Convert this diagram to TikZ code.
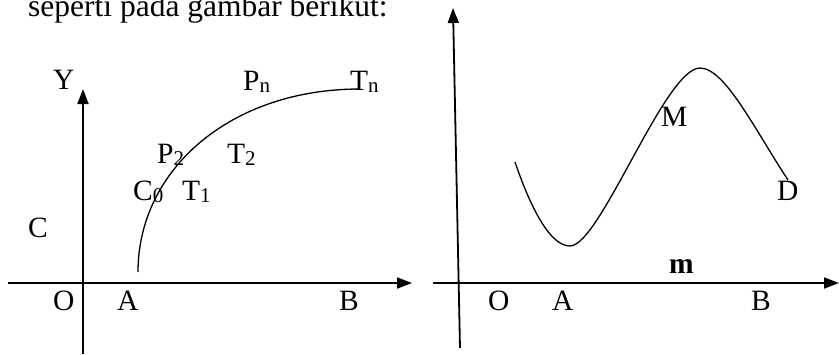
\documentclass[tikz,border=0pt]{standalone}
\usepackage{fontspec}
\setmainfont{Liberation Serif}
\usetikzlibrary{arrows.meta}
\newcommand{\lblsub}[1]{\raisebox{-2pt}{\fontsize{21}{21}\selectfont #1}}
\tikzset{
  lbl/.style={anchor=base west, inner sep=0pt, font=\fontsize{29.5}{32}\selectfont},
  axis/.style={line width=1.8pt, -{Triangle[length=15pt,width=11pt]}},
  curve/.style={line width=1.3pt},
}
\begin{document}
\begin{tikzpicture}[x=1pt,y=-1pt]
\useasboundingbox (0,0) rectangle (839,354);
% top text
\node[lbl, font=\fontsize{31.5}{34}\selectfont] (top) at (28,16) {seperti pada gambar berikut:};
% ---------- left panel ----------
\coordinate (lx0) at (8,283);
\coordinate (lx1) at (412,283);
\coordinate (ly0) at (83,354);
\coordinate (ly1) at (83,89);
\draw[axis] (lx0) -- (lx1);
\draw[axis] (ly0) -- (ly1);
\coordinate (cA) at (138,272);
\coordinate (cT) at (360,89);
\draw[curve] (cA) .. controls (138,170) and (230,89) .. (cT);
\node[lbl] (Y) at (53,89) {Y};
\node[lbl] (O1) at (53,310) {O};
\node[lbl] (A1) at (117,310) {A};
\node[lbl] (B1) at (339,310) {B};
\node[lbl] (C) at (28,237) {C};
\node[lbl] (C0) at (133,200) {C\lblsub{0}};
\node[lbl] (T1) at (182,200) {T\lblsub{1}};
\node[lbl] (P2) at (157,163) {P\lblsub{2}};
\node[lbl] (T2) at (227,163) {T\lblsub{2}};
\node[lbl] (Pn) at (243,90) {P\lblsub{n}};
\node[lbl] (Tn) at (350,90) {T\lblsub{n}};
% ---------- right panel ----------
\coordinate (rx0) at (433,283);
\coordinate (rx1) at (839,283);
\coordinate (ry0) at (460,348);
\coordinate (ry1) at (453,8);
\draw[axis] (rx0) -- (rx1);
\draw[axis] (ry0) -- (ry1);
\coordinate (s0) at (515,162);
\coordinate (smin) at (570,246);
\coordinate (smax) at (700,68);
\coordinate (s1) at (788,180);
\draw[curve] (s0) .. controls (528,200) and (548,246) .. (smin)
  .. controls (600,246) and (665,68) .. (smax)
  .. controls (725,68) and (755,130) .. (s1);
\node[lbl] (M) at (661,126) {M};
\node[lbl] (D) at (777,200) {D};
\node[lbl] (m) at (669,273) {\bfseries m};
\node[lbl] (O2) at (488,310) {O};
\node[lbl] (A2) at (552,310) {A};
\node[lbl] (B2) at (751,310) {B};
\end{tikzpicture}
\end{document}
